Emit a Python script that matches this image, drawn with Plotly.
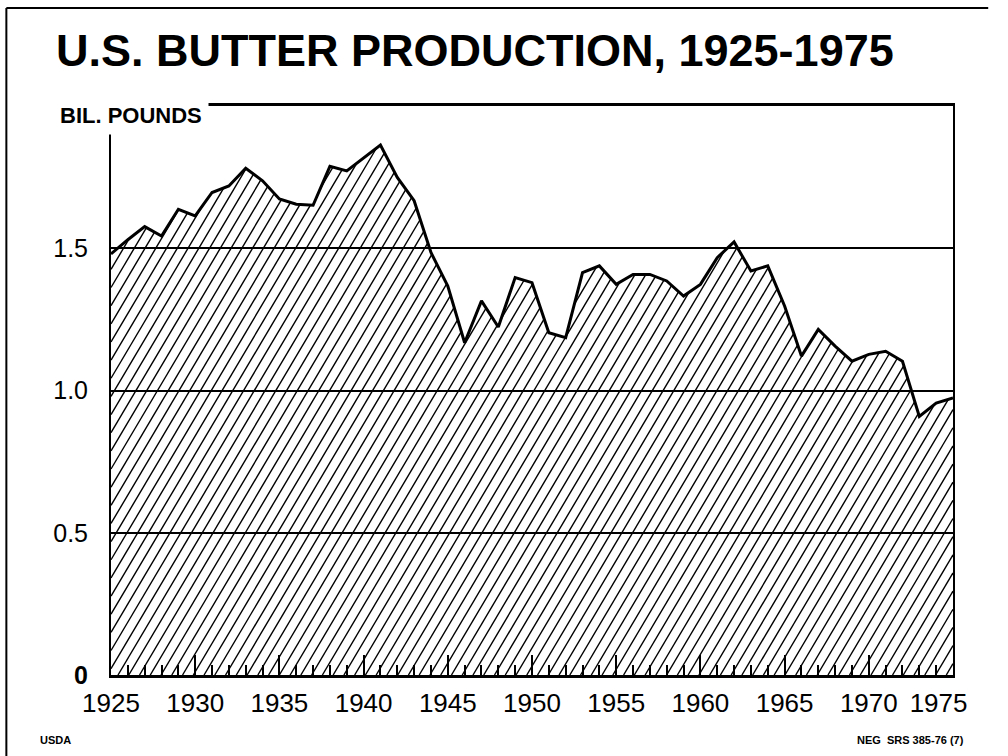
import numpy as np
import plotly.graph_objects as go

years = list(range(1925, 1976))
production = [1.48, 1.53, 1.576, 1.543, 1.637, 1.614, 1.696, 1.719, 1.781, 1.737,
              1.673, 1.655, 1.651, 1.788, 1.772, 1.819, 1.863, 1.749, 1.667, 1.485,
              1.367, 1.168, 1.315, 1.223, 1.397, 1.379, 1.203, 1.186, 1.414, 1.438,
              1.373, 1.408, 1.408, 1.385, 1.332, 1.373, 1.467, 1.522, 1.42, 1.438,
              1.297, 1.121, 1.215, 1.156, 1.103, 1.127, 1.138, 1.103, 0.909, 0.956,
              0.974]
x_tickvals = [1925, 1930, 1935, 1940, 1945, 1950, 1955, 1960, 1965, 1970, 1975]
x_ticktext = ["1925", "1930", "1935", "1940", "1945", "1950", "1955", "1960",
              "1965", "1970", "1975"]
y_tickvals = [0, 0.5, 1.0, 1.5]
y_ticktext = ["<b>0</b>", "0.5", "1.0", "1.5"]

title_text = "U.S. BUTTER PRODUCTION, 1925-1975"
unit_text = "BIL. POUNDS"
source_left = "USDA"
source_right = "NEG  SRS 385-76 (7)"

FONT = "Liberation Sans, Arial, Helvetica, sans-serif"

W, H = 1008, 756
L, R, T, B = 111, 36, 106, 81
pw, ph = W - L - R, H - T - B
XMIN, XMAX, YMAX = 1925, 1975, 2.0
px_per_year = pw / (XMAX - XMIN)
px_per_unit = ph / YMAX

# the last tick label sits pulled in from the right edge, as in the original
NBSP = "\u00a0"
x_ticklabels = x_ticktext[:-1] + [x_ticktext[-1] + NBSP * 4]

# ---- hatch (style only): diagonal lines clipped under the data curve ----
hatch_spacing_px = 11.0
hatch_tan = 1.65  # steepness of the hatch lines (pixel space)
slope = hatch_tan * px_per_year / px_per_unit  # data units per year
step = hatch_spacing_px / px_per_year

xs = np.array(years, dtype=float)
ys = np.array(production, dtype=float)
hx, hy = [], []
c = XMIN - YMAX / slope
while c < XMAX:
    segs = []
    for i in range(len(xs) - 1):
        a, b = max(xs[i], c), xs[i + 1]
        if a >= b:
            continue
        def g(x):
            return np.interp(x, xs, ys) - slope * (x - c)
        ga, gb = g(a), g(b)
        if ga >= 0 and gb >= 0:
            segs.append([a, b])
        elif ga >= 0 > gb:
            segs.append([a, a + (b - a) * ga / (ga - gb)])
        elif ga < 0 <= gb:
            segs.append([a + (b - a) * ga / (ga - gb), b])
    merged = []
    for s0, s1 in segs:
        if merged and abs(merged[-1][1] - s0) < 1e-9:
            merged[-1][1] = s1
        elif s1 - s0 > 1e-9:
            merged.append([s0, s1])
    for s0, s1 in merged:
        hx += [s0, s1, None]
        hy += [slope * (s0 - c), slope * (s1 - c), None]
    c += step

fig = go.Figure()
fig.add_trace(go.Scatter(
    x=hx, y=hy, mode="lines", line=dict(color="black", width=1.4),
    hoverinfo="skip", showlegend=False,
))
fig.add_trace(go.Scatter(
    x=years, y=production, mode="lines",
    line=dict(color="black", width=3),
    hoverinfo="x+y", showlegend=False,
))

def px_x(p):
    return (p - L) / pw

def px_y(p):
    return (H - B - p) / ph

fig.update_layout(
    width=W, height=H,
    margin=dict(l=L, r=R, t=T, b=B, pad=0),
    paper_bgcolor="white", plot_bgcolor="white",
    font=dict(family=FONT, color="black"),
    title=dict(text="<b>" + title_text + "</b>", x=56 / W, xanchor="left",
               y=1 - 50 / H, yanchor="middle",
               font=dict(size=45, family=FONT, color="black")),
    xaxis=dict(range=[XMIN, XMAX], tickmode="array", tickvals=x_tickvals,
               ticktext=x_ticklabels, ticks="inside", ticklen=20, tickwidth=2,
               tickcolor="black", ticklabeloverflow="allow",
               minor=dict(dtick=1, ticks="inside", ticklen=10, tickwidth=2,
                          tickcolor="black", showgrid=False),
               showgrid=False, zeroline=False, showline=True, linecolor="black",
               linewidth=3, mirror=True, tickfont=dict(size=26),
               ticklabelstandoff=3, layer="above traces", fixedrange=True),
    yaxis=dict(range=[0, YMAX], tickmode="array", tickvals=y_tickvals,
               ticktext=y_ticktext, ticks="", showgrid=True, gridcolor="black",
               gridwidth=2, zeroline=False, showline=True, linecolor="black",
               linewidth=2, mirror=True, tickfont=dict(size=25),
               ticklabelstandoff=16, fixedrange=True),
    annotations=[
        dict(text="<b>" + unit_text + "</b>", xref="paper", yref="paper",
             x=px_x(52), y=px_y(116), xanchor="left", yanchor="middle",
             showarrow=False, font=dict(size=22), bgcolor="white", borderpad=6),
        dict(text="<b>" + source_left + "</b>", xref="paper", yref="paper",
             x=px_x(36), y=px_y(740), xanchor="left", yanchor="middle",
             showarrow=False, font=dict(size=11)),
        dict(text="<b>" + source_right + "</b>", xref="paper", yref="paper",
             x=px_x(985), y=px_y(740), xanchor="right", yanchor="middle",
             showarrow=False, font=dict(size=11)),
    ],
    shapes=[
        dict(type="line", xref="paper", yref="paper", x0=px_x(4), x1=px_x(1008),
             y0=px_y(8), y1=px_y(8), line=dict(color="black", width=2)),
        dict(type="line", xref="paper", yref="paper", x0=px_x(4), x1=px_x(4),
             y0=px_y(8), y1=px_y(756), line=dict(color="black", width=2)),
    ],
)

fig.write_html(
    "out.html",
    config={"displayModeBar": False},
    post_script="document.body.style.margin='0';document.body.style.overflow='hidden';",
)
